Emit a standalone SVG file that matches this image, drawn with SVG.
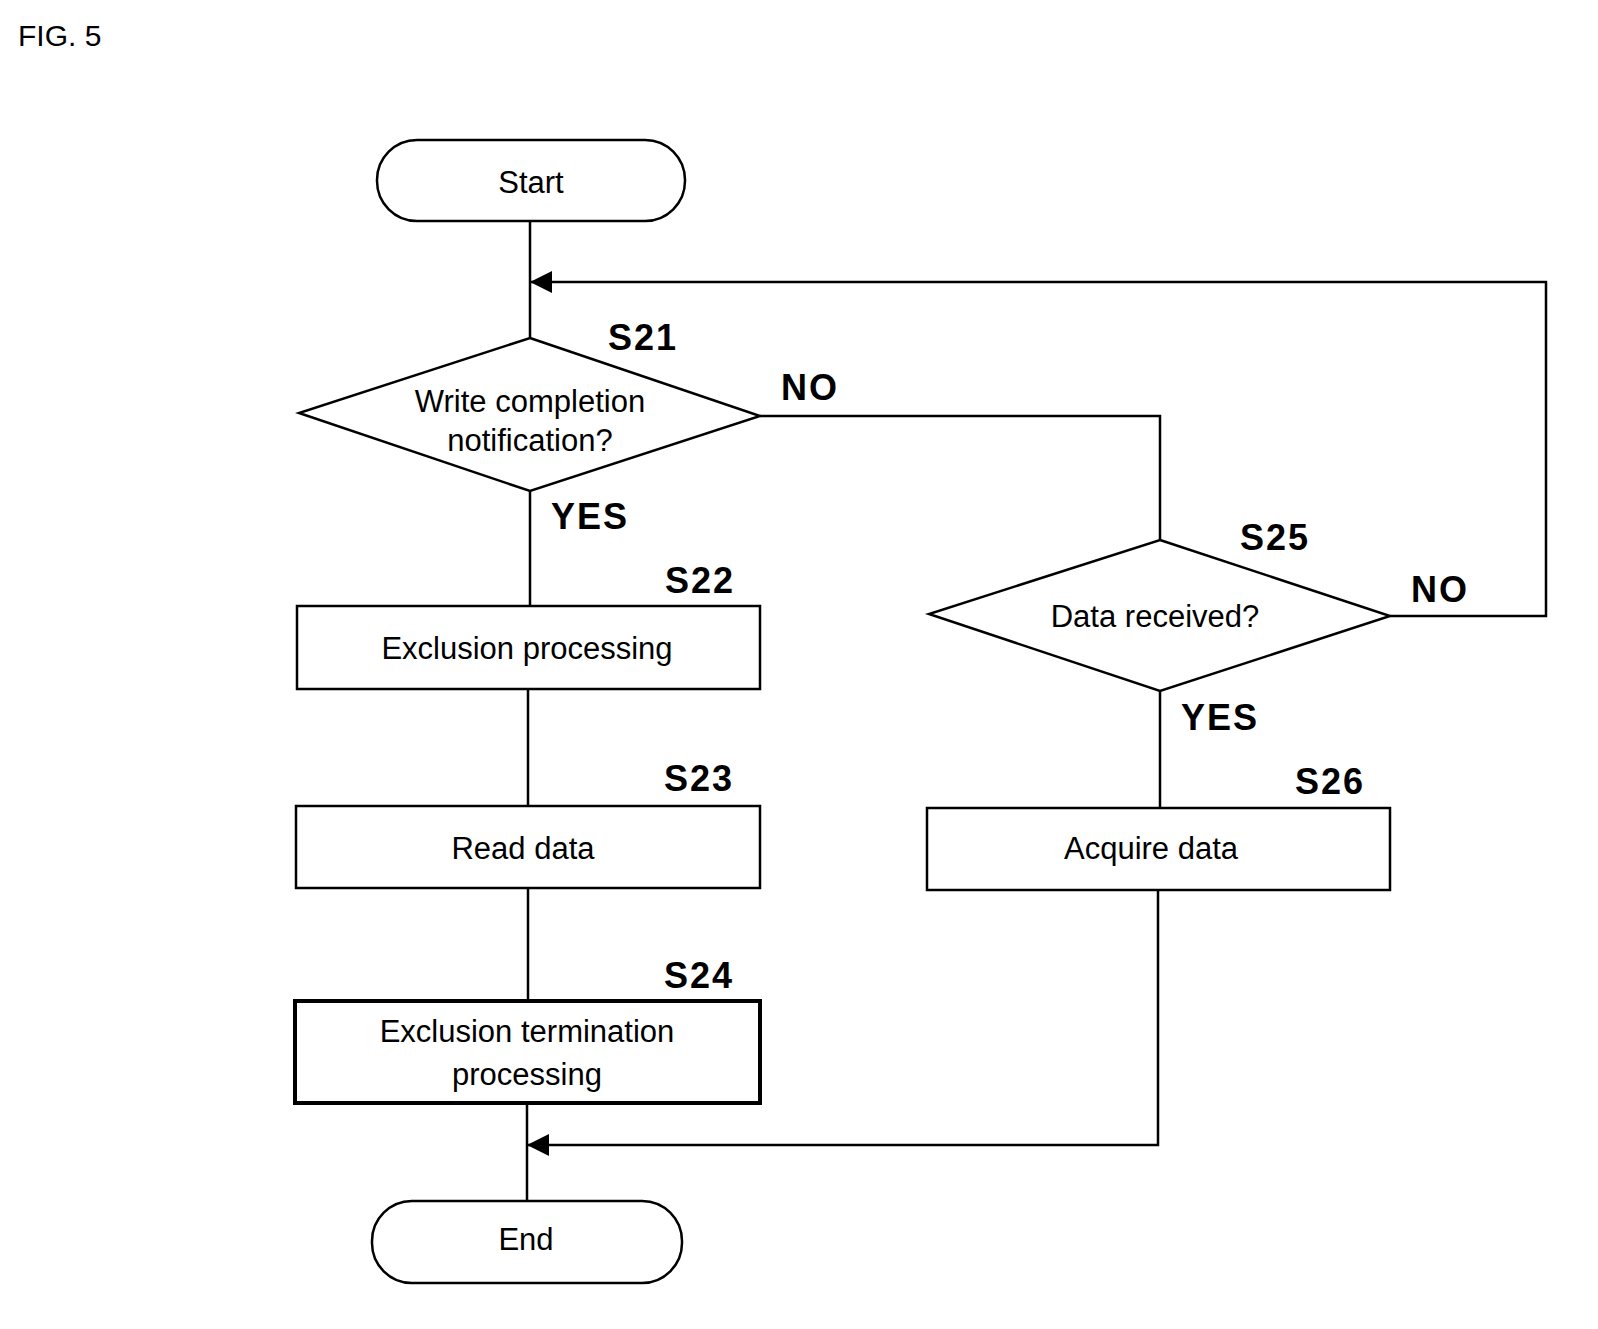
<svg xmlns="http://www.w3.org/2000/svg" width="1598" height="1329" viewBox="0 0 1598 1329">
<style>
.s{fill:#fff;stroke:#000;stroke-width:2.5}
.t{font-family:"Liberation Sans",Arial,sans-serif;font-size:31px;text-anchor:middle;fill:#000}
.l{font-family:"Liberation Sans",Arial,sans-serif;font-size:36px;font-weight:bold;text-anchor:middle;fill:#000;letter-spacing:2px}
.c{fill:none;stroke:#000;stroke-width:2.5}
</style>
<rect width="1598" height="1329" fill="#fff"/>
<text x="18" y="46" style="font-family:'Liberation Sans',Arial,sans-serif;font-size:30px">FIG. 5</text>
<g id="connectors">
<path class="c" d="M530,221V338M530,491V606M528,689V806M528,888V1001M527,1103V1201"/>
<path class="c" d="M760,416H1160V540M1160,691V808"/>
<path class="c" d="M1390,616H1546V282H530"/>
<path class="c" d="M1158,890V1145H527"/>
<polygon points="530,282 552,271 552,293" fill="#000"/>
<polygon points="527,1145 549,1134 549,1156" fill="#000"/>
<text class="l" x="810" y="400">NO</text>
<text class="l" x="590" y="529">YES</text>
<text class="l" x="1440" y="602">NO</text>
<text class="l" x="1220" y="730">YES</text>
</g>
<g id="start"><rect class="s" x="377" y="140" width="308" height="81" rx="40"/><text class="t" x="531" y="193">Start</text></g>
<g id="s21"><polygon class="s" points="530,338 760,416 530,491 299,413"/><text class="t" x="530" y="412">Write completion</text><text class="t" x="530" y="451">notification?</text><text class="l" x="643" y="350">S21</text></g>
<g id="s22"><rect class="s" x="297" y="606" width="463" height="83"/><text class="t" x="527" y="659">Exclusion processing</text><text class="l" x="700" y="593">S22</text></g>
<g id="s23"><rect class="s" x="296" y="806" width="464" height="82"/><text class="t" x="523" y="859">Read data</text><text class="l" x="699" y="791">S23</text></g>
<g id="s24"><rect class="s" x="295" y="1001" width="465" height="102" style="stroke-width:4"/><text class="t" x="527" y="1042">Exclusion termination</text><text class="t" x="527" y="1085">processing</text><text class="l" x="699" y="988">S24</text></g>
<g id="end"><rect class="s" x="372" y="1201" width="310" height="82" rx="40"/><text class="t" x="526" y="1250">End</text></g>
<g id="s25"><polygon class="s" points="1160,540 1390,616 1160,691 929,614"/><text class="t" x="1155" y="627">Data received?</text><text class="l" x="1275" y="550">S25</text></g>
<g id="s26"><rect class="s" x="927" y="808" width="463" height="82"/><text class="t" x="1151" y="859">Acquire data</text><text class="l" x="1330" y="794">S26</text></g>
</svg>
